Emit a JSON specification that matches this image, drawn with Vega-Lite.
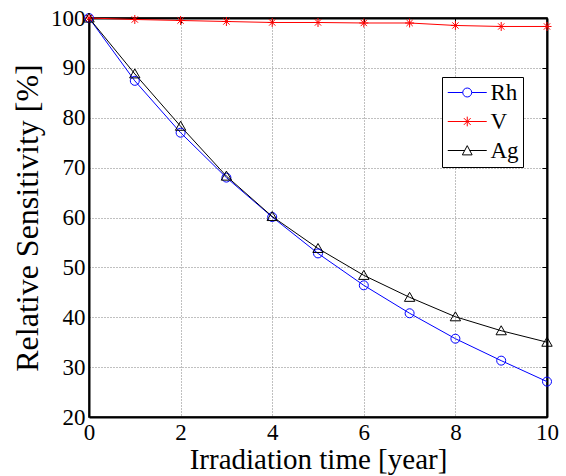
{
  "$schema": "https://vega.github.io/schema/vega-lite/v6.json",
  "autosize": {"type": "none"},
  "padding": {"left": 89, "top": 18, "right": 19, "bottom": 59},
  "width": 458,
  "height": 399,
  "background": "white",
  "config": {
    "font": "Liberation Serif",
    "view": {"stroke": "black", "strokeWidth": 1.5},
    "axis": {
      "labelFont": "Liberation Serif",
      "titleFont": "Liberation Serif",
      "labelFontSize": 23,
      "titleFontSize": 28,
      "labelColor": "black",
      "titleColor": "black",
      "titleFontWeight": "normal",
      "domainColor": "black",
      "tickColor": "black",
      "gridColor": "#808080",
      "gridDash": [1, 2],
      "gridWidth": 1
    },
    "legend": {
      "labelFont": "Liberation Serif",
      "labelFontSize": 23,
      "labelColor": "black"
    }
  },
  "data": {
    "values": [
      {"series": "Rh", "t": 0, "v": 100},
      {"series": "Rh", "t": 1, "v": 87.4},
      {"series": "Rh", "t": 2, "v": 77.0},
      {"series": "Rh", "t": 3, "v": 68.0},
      {"series": "Rh", "t": 4, "v": 60.1},
      {"series": "Rh", "t": 5, "v": 52.8},
      {"series": "Rh", "t": 6, "v": 46.4},
      {"series": "Rh", "t": 7, "v": 40.8},
      {"series": "Rh", "t": 8, "v": 35.7},
      {"series": "Rh", "t": 9, "v": 31.3},
      {"series": "Rh", "t": 10, "v": 27.1},
      {"series": "V", "t": 0, "v": 100},
      {"series": "V", "t": 1, "v": 99.7},
      {"series": "V", "t": 2, "v": 99.5},
      {"series": "V", "t": 3, "v": 99.3},
      {"series": "V", "t": 4, "v": 99.1},
      {"series": "V", "t": 5, "v": 99.1},
      {"series": "V", "t": 6, "v": 99.0},
      {"series": "V", "t": 7, "v": 99.0},
      {"series": "V", "t": 8, "v": 98.5},
      {"series": "V", "t": 9, "v": 98.3},
      {"series": "V", "t": 10, "v": 98.3},
      {"series": "Ag", "t": 0, "v": 100},
      {"series": "Ag", "t": 1, "v": 88.8},
      {"series": "Ag", "t": 2, "v": 78.3},
      {"series": "Ag", "t": 3, "v": 68.3},
      {"series": "Ag", "t": 4, "v": 60.2},
      {"series": "Ag", "t": 5, "v": 53.8},
      {"series": "Ag", "t": 6, "v": 48.4},
      {"series": "Ag", "t": 7, "v": 44.0},
      {"series": "Ag", "t": 8, "v": 40.1},
      {"series": "Ag", "t": 9, "v": 37.3},
      {"series": "Ag", "t": 10, "v": 35.0}
    ]
  },
  "layer": [
    {
      "encoding": {
        "x": {
          "field": "t", "type": "quantitative",
          "scale": {"domain": [0, 10], "nice": false, "zero": false},
          "axis": {
            "orient": "bottom",
            "title": "Irradiation time [year]",
            "titleFontSize": 29,
            "values": [0, 2, 4, 6, 8, 10],
            "grid": true, "ticks": false, "domainWidth": 2,
            "labelPadding": 4, "titlePadding": 1, "labelFlush": false
          }
        },
        "y": {
          "field": "v", "type": "quantitative",
          "scale": {"domain": [20, 100], "nice": false, "zero": false},
          "axis": {
            "orient": "left",
            "title": "Relative Sensitivity [%]",
            "titleFontSize": 32,
            "values": [20, 30, 40, 50, 60, 70, 80, 90, 100],
            "grid": true, "ticks": false, "domainWidth": 2,
            "labelPadding": 4, "titlePadding": 6, "labelFlush": false
          }
        }
      },
      "layer": [
        {
          "transform": [{"filter": "datum.series === 'Rh'"}],
          "mark": {"type": "line", "strokeWidth": 1, "color": "#0000ff"}
        },
        {
          "transform": [{"filter": "datum.series === 'V'"}],
          "mark": {"type": "line", "strokeWidth": 1, "color": "#ff0000"}
        },
        {
          "transform": [{"filter": "datum.series === 'Ag'"}],
          "mark": {"type": "line", "strokeWidth": 1, "color": "#000000"}
        },
        {
          "transform": [{"filter": "datum.series === 'Rh'"}],
          "mark": {"type": "point", "filled": false, "strokeWidth": 1, "size": 81, "opacity": 1, "color": "#0000ff", "shape": "M-1,0A1,1 0 1,1 1,0A1,1 0 1,1 -1,0Z"}
        },
        {
          "transform": [{"filter": "datum.series === 'V'"}],
          "mark": {"type": "point", "filled": false, "strokeWidth": 1, "size": 81, "opacity": 1, "color": "#ff0000", "shape": "M-1,0L1,0M0,-1L0,1M-0.7,-0.7L0.7,0.7M-0.7,0.7L0.7,-0.7"}
        },
        {
          "transform": [{"filter": "datum.series === 'Ag'"}],
          "mark": {"type": "point", "filled": false, "strokeWidth": 1, "size": 81, "opacity": 1, "color": "#000000", "shape": "M0,-1.1L1.15,0.9L-1.15,0.9Z"}
        },
        {
          "mark": {"type": "point", "filled": false, "strokeWidth": 1, "size": 81, "opacity": 0},
          "encoding": {
            "color": {
              "field": "series", "type": "nominal",
              "scale": {"domain": ["Rh", "V", "Ag"], "range": ["#0000ff", "#ff0000", "#000000"]},
              "legend": {
                "title": null,
                "orient": "none",
                "legendX": 353,
                "legendY": 59,
                "padding": 4,
                "rowPadding": 5,
                "labelOffset": 21.5,
                "strokeColor": "black",
                "fillColor": "white",
                "symbolSize": 380,
                "symbolStrokeWidth": 1,
                "symbolOpacity": 1
              }
            },
            "shape": {
              "field": "series", "type": "nominal",
              "scale": {"domain": ["Rh", "V", "Ag"], "range": [
                "M-1,0L0.54,0M1.46,0L3,0M0.54,0A0.46,0.46 0 1,1 1.46,0A0.46,0.46 0 1,1 0.54,0",
                "M-1,0L3,0M0.5,0L1.5,0M1,-0.5L1,0.5M0.65,-0.35L1.35,0.35M0.65,0.35L1.35,-0.35",
                "M-1,0L0.75,0M1.25,0L3,0M1,-0.5L1.5,0.45L0.5,0.45Z"
              ]},
              "legend": {
                "title": null,
                "orient": "none",
                "legendX": 353,
                "legendY": 59
              }
            }
          }
        }
      ]
    },
    {
      "mark": {"type": "rule", "opacity": 0},
      "encoding": {
        "x": {
          "field": "t", "type": "quantitative",
          "axis": {"orient": "top", "title": null, "labels": false, "grid": false, "values": [0, 2, 4, 6, 8, 10], "tickSize": -5, "domainWidth": 2}
        },
        "y": {
          "field": "v", "type": "quantitative",
          "axis": {"orient": "right", "title": null, "labels": false, "grid": false, "values": [20, 30, 40, 50, 60, 70, 80, 90, 100], "tickSize": -5, "domainWidth": 2}
        }
      }
    }
  ],
  "resolve": {"axis": {"x": "independent", "y": "independent"}}
}
